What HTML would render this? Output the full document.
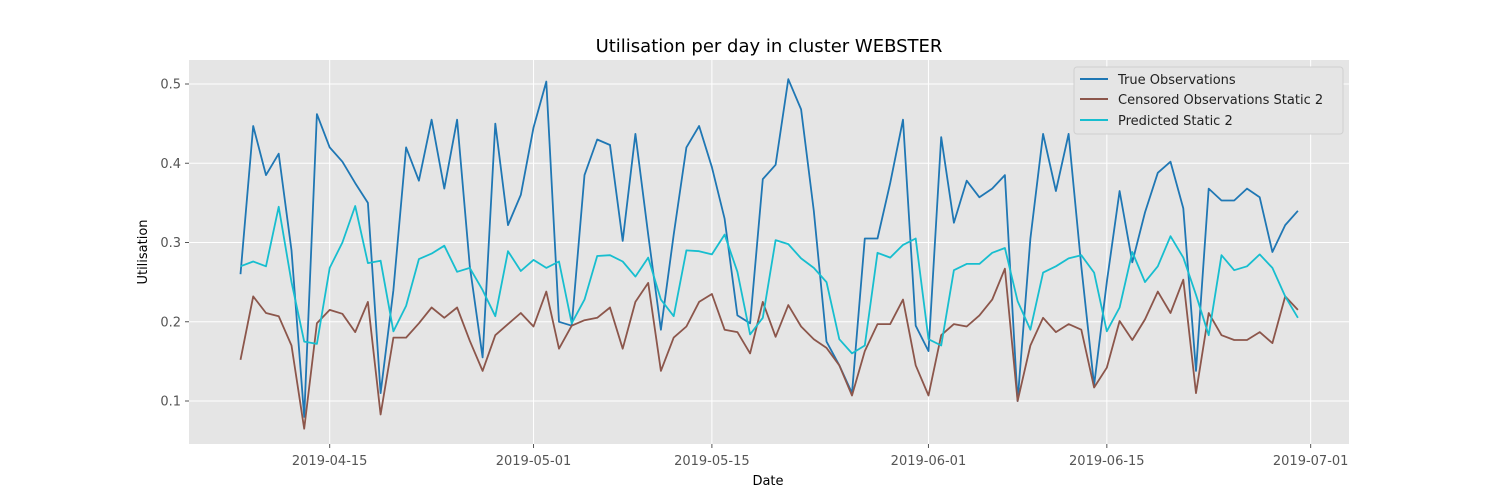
<!DOCTYPE html>
<html><head><meta charset="utf-8"><style>
body{margin:0;background:#fff;}
svg{display:block;font-family:"DejaVu Sans","Liberation Sans",sans-serif;}
</style></head><body>
<svg id="chart" width="1500" height="500">
<rect x="189" y="60" width="1160" height="384" fill="#e5e5e5"/>
<g id="grid"></g>
<g id="series"></g>
<g id="ticks"></g>
<text x="769" y="52" font-size="18" text-anchor="middle" fill="#000">Utilisation per day in cluster WEBSTER</text>
<text x="768" y="485" font-size="13" text-anchor="middle" fill="#000">Date</text>
<text x="147" y="252" font-size="13" text-anchor="middle" fill="#000" transform="rotate(-90 147 252)">Utilisation</text>
<g>
<rect x="1074" y="67" width="269" height="67" rx="3" fill="#e5e5e5" stroke="#d0d0d0" stroke-width="1"/>
<g><line x1="1080" y1="79" x2="1108" y2="79" stroke="#1f77b4" stroke-width="2"/><text x="1118" y="84" font-size="13" fill="#222">True Observations</text></g>
<g><line x1="1080" y1="99" x2="1108" y2="99" stroke="#8c564b" stroke-width="2"/><text x="1118" y="104" font-size="13" fill="#222">Censored Observations Static 2</text></g>
<g><line x1="1080" y1="120" x2="1108" y2="120" stroke="#17becf" stroke-width="2"/><text x="1118" y="125" font-size="13" fill="#222">Predicted Static 2</text></g>
</g>
</svg>
<script>
const startDate = "2019-04-08";
const trueObs = [0.26,0.447,0.385,0.412,0.29,0.08,0.462,0.42,0.402,0.375,0.35,0.11,0.24,0.42,0.378,0.455,0.368,0.455,0.27,0.155,0.45,0.322,0.36,0.445,0.503,0.2,0.195,0.385,0.43,0.423,0.302,0.437,0.31,0.19,0.31,0.42,0.447,0.395,0.33,0.208,0.198,0.38,0.398,0.506,0.468,0.34,0.175,0.145,0.11,0.305,0.305,0.375,0.455,0.195,0.163,0.433,0.325,0.378,0.357,0.368,0.385,0.1,0.305,0.437,0.365,0.437,0.27,0.12,0.25,0.365,0.275,0.338,0.388,0.402,0.343,0.138,0.368,0.353,0.353,0.368,0.357,0.288,0.322,0.34];
const censored = [0.152,0.232,0.211,0.207,0.17,0.065,0.198,0.215,0.21,0.187,0.225,0.083,0.18,0.18,0.198,0.218,0.205,0.218,0.176,0.138,0.183,0.197,0.211,0.194,0.238,0.166,0.195,0.202,0.205,0.218,0.166,0.225,0.249,0.138,0.18,0.194,0.225,0.235,0.19,0.187,0.16,0.225,0.181,0.221,0.194,0.178,0.167,0.145,0.107,0.163,0.197,0.197,0.228,0.145,0.107,0.183,0.197,0.194,0.208,0.228,0.267,0.1,0.17,0.205,0.187,0.197,0.19,0.117,0.142,0.201,0.177,0.203,0.238,0.211,0.253,0.11,0.211,0.183,0.177,0.177,0.187,0.173,0.232,0.215];
const predicted = [0.27,0.276,0.27,0.345,0.25,0.175,0.172,0.268,0.3,0.346,0.274,0.277,0.188,0.22,0.279,0.286,0.296,0.263,0.268,0.24,0.207,0.289,0.264,0.278,0.268,0.276,0.198,0.228,0.283,0.284,0.276,0.257,0.281,0.228,0.207,0.29,0.289,0.285,0.31,0.263,0.184,0.205,0.303,0.298,0.28,0.268,0.25,0.178,0.16,0.17,0.287,0.281,0.297,0.305,0.178,0.17,0.265,0.273,0.273,0.287,0.293,0.226,0.19,0.262,0.27,0.28,0.284,0.262,0.188,0.218,0.288,0.25,0.27,0.308,0.281,0.234,0.183,0.284,0.265,0.27,0.285,0.268,0.232,0.205];
const yTicks = [0.1,0.2,0.3,0.4,0.5];
const xTickLabels = ["2019-04-15","2019-05-01","2019-05-15","2019-06-01","2019-06-15","2019-07-01"];

const DAY=86400000, t0=Date.parse(startDate);
function xScale(day){return 240.5+day*12.74;}
function yScale(v){return 401-(v-0.1)*792.5;}
const NS="http://www.w3.org/2000/svg";
const grid=document.getElementById('grid'), ticks=document.getElementById('ticks'), series=document.getElementById('series');
function mk(tag,attrs,parent){const e=document.createElementNS(NS,tag);for(const k in attrs)e.setAttribute(k,attrs[k]);parent.appendChild(e);return e;}
yTicks.forEach(v=>{
  const y=yScale(v);
  const g=mk('line',{x1:189,x2:1349,y1:y,y2:y,stroke:'#fff','stroke-width':1},grid);
  
  
  mk('line',{x1:185,x2:189,y1:y,y2:y,stroke:'#555'},ticks);
  const t=mk('text',{x:181,y:y+4.5,'font-size':13,'text-anchor':'end',fill:'#555'},ticks);
  t.textContent=v.toFixed(1);
  
  
});
xTickLabels.forEach(s=>{
  const d=(Date.parse(s)-t0)/DAY, x=xScale(d);
  const g=mk('line',{x1:x,x2:x,y1:60,y2:444,stroke:'#fff','stroke-width':1},grid);
  
  
  mk('line',{x1:x,x2:x,y1:444,y2:448,stroke:'#555'},ticks);
  const t=mk('text',{x:x,y:465,'font-size':13,'text-anchor':'middle',fill:'#555'},ticks);
  t.textContent=s;
  
  
});
function line(arr,color,name){
  const pts=arr.map((v,i)=>xScale(i).toFixed(1)+','+yScale(v).toFixed(1)).join(' ');
  const p=mk('polyline',{points:pts,fill:'none',stroke:color,'stroke-width':1.8,'stroke-linejoin':'round'},series);
  
  
}
line(trueObs,'#1f77b4','true-observations-line');
line(censored,'#8c564b','censored-observations-line');
line(predicted,'#17becf','predicted-line');
</script>
</body></html>
